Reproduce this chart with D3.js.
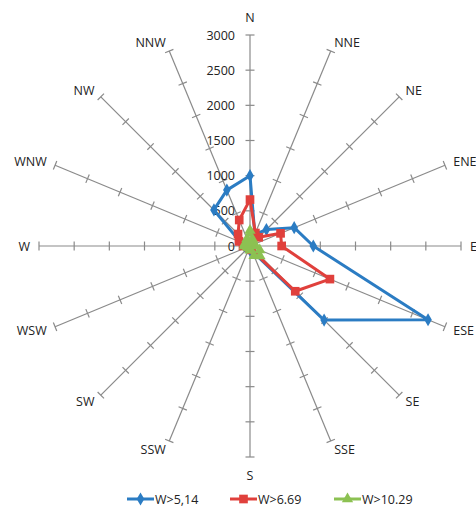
<!DOCTYPE html>
<html>
<head>
<meta charset="utf-8">
<script src="https://cdn.jsdelivr.net/npm/d3@7"></script>
<style>
  html, body { margin: 0; padding: 0; background: #fff; }
  svg { display: block; }
  text { font-family: "Open Sans", "Liberation Sans", sans-serif; }
</style>
</head>
<body>
<svg id="chart" width="476" height="506"></svg>
<script>
// ---- data ----
const directions = ["N","NNE","NE","ENE","E","ESE","SE","SSE","S","SSW","SW","WSW","W","WNW","NW","NNW"];
const seriesNames = ["W>5,14", "W>6.69", "W>10.29"];
const blueValues  = [1000, 180, 330, 680, 900, 2740, 1490, 80, 60, 30, 30, 40, 80, 150, 725, 860];
const redValues   = [660, 200, 175, 470, 450, 1230, 910, 60, 30, 20, 20, 30, 100, 170, 240, 400];
const greenValues = [220, 100, 70, 60, 80, 150, 200, 150, 60, 30, 30, 40, 80, 80, 70, 110];
const radialTicks = [0, 500, 1000, 1500, 2000, 2500, 3000];

const colors = ["#2b7cc3", "#e0403c", "#8cc152"];
const series = [
  { name: seriesNames[0], values: blueValues,  color: colors[0], marker: "diamond" },
  { name: seriesNames[1], values: redValues,   color: colors[1], marker: "square" },
  { name: seriesNames[2], values: greenValues, color: colors[2], marker: "triangle" }
];

const svg = d3.select("#chart");
const cx = 250, cy = 246, R = 211;
const r = d3.scaleLinear().domain([0, 3000]).range([0, R]);
const ang = d3.scaleLinear().domain([0, directions.length]).range([0, 2 * Math.PI]);

const g = svg.append("g").attr("transform", `translate(${cx},${cy})`);

// spokes
const axisColor = "#8a8a8a";
directions.forEach((d, i) => {
  const a = ang(i);
  const sx = Math.sin(a), sy = -Math.cos(a);
  g.append("line")
    .attr("x1", 0).attr("y1", 0)
    .attr("x2", sx * R).attr("y2", sy * R)
    .attr("stroke", axisColor).attr("stroke-width", 1.2);
  // tick marks
  radialTicks.slice(1).forEach(t => {
    const rr = r(t);
    const px = -sy, py = sx; // perpendicular
    g.append("line")
      .attr("x1", sx * rr + px * 4.5).attr("y1", sy * rr + py * 4.5)
      .attr("x2", sx * rr - px * 4.5).attr("y2", sy * rr - py * 4.5)
      .attr("stroke", axisColor).attr("stroke-width", 1.2);
  });
  // labels
  let lx, ly, anchor;
  if (Math.abs(sx) < 0.1) {
    lx = sx * (R + 18); ly = sy * (R + 18); anchor = "middle";
  } else {
    lx = sx * (R + 9); ly = sy * (R + 9); anchor = sx > 0 ? "start" : "end";
  }
  g.append("text")
    .attr("x", lx).attr("y", ly)
    .attr("text-anchor", anchor)
    .attr("dominant-baseline", "central")
    .attr("font-size", 12.5)
    .attr("fill", "#222")
    .text(d);
});

// radial tick labels
radialTicks.forEach(t => {
  g.append("text")
    .attr("x", -15).attr("y", -r(t))
    .attr("text-anchor", "end")
    .attr("dominant-baseline", "central")
    .attr("font-size", 12.5)
    .attr("fill", "#222")
    .text(t);
});

// series
const line = d3.lineRadial()
  .angle((d, i) => ang(i))
  .radius(d => r(d))
  .curve(d3.curveLinearClosed);

const symbolType = { diamond: d3.symbolDiamond, square: d3.symbolSquare, triangle: d3.symbolTriangle };
const symbolSize = { diamond: 50, square: 75, triangle: 55 };

series.forEach(s => {
  g.append("path")
    .attr("d", line(s.values))
    .attr("fill", "none")
    .attr("stroke", s.color)
    .attr("stroke-width", 3)
    .attr("stroke-linejoin", "round");
  s.values.forEach((v, i) => {
    const a = ang(i);
    g.append("path")
      .attr("d", d3.symbol().type(symbolType[s.marker]).size(symbolSize[s.marker])())
      .attr("transform", `translate(${Math.sin(a) * r(v)},${-Math.cos(a) * r(v)})`)
      .attr("fill", s.color);
  });
});

// legend
const legendX = [127, 230, 334];
const legendY = 499;
series.forEach((s, i) => {
  const lg = svg.append("g").attr("transform", `translate(${legendX[i]},${legendY})`);
  lg.append("line").attr("x1", 0).attr("x2", 27).attr("y1", 0).attr("y2", 0)
    .attr("stroke", s.color).attr("stroke-width", 3);
  lg.append("path")
    .attr("d", d3.symbol().type(symbolType[s.marker]).size(symbolSize[s.marker])())
    .attr("transform", "translate(13.5,0)")
    .attr("fill", s.color);
  lg.append("text").attr("x", 28).attr("y", 0)
    .attr("dominant-baseline", "central")
    .attr("font-size", 12.5).attr("fill", "#222")
    .text(s.name);
});
</script>
</body>
</html>
